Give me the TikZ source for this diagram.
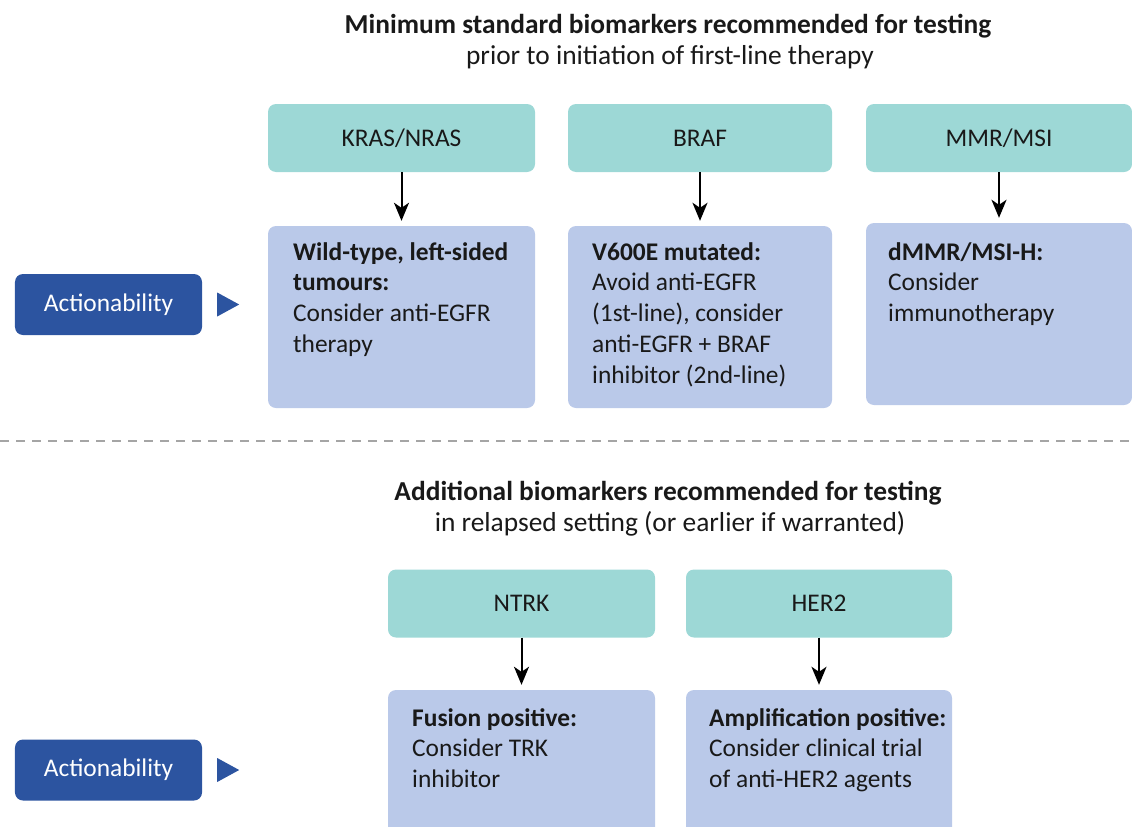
\documentclass[tikz,border=0pt]{standalone}
\usepackage{fontspec}
\setmainfont{Carlito}
\usetikzlibrary{arrows.meta}
\definecolor{tealc}{RGB}{157,216,214}
\definecolor{bluec}{RGB}{186,201,233}
\definecolor{actc}{RGB}{44,84,160}
\definecolor{dashc}{RGB}{165,165,165}
\definecolor{txtc}{RGB}{25,25,25}
\newcommand{\fs}{\fontsize{25.5}{31}\selectfont}
\newcommand{\fst}{\fontsize{27.5}{32}\selectfont}
\begin{document}
\begin{tikzpicture}[x=1bp,y=-1bp,
  tbox/.style={fill=tealc, rounded corners=8bp, inner sep=0pt, minimum height=68bp, text=txtc, font=\fs},
  bbox/.style={fill=bluec, rounded corners=8bp, inner sep=0pt},
  btext/.style={anchor=north west, inner sep=0pt, align=left, text=txtc, font=\fs},
  abox/.style={fill=actc, rounded corners=8bp, inner sep=0pt, minimum width=187bp, minimum height=61bp, text=white, font=\fs},
  atri/.style={fill=actc},
  conn/.style={-{Stealth[length=18bp,width=15bp,inset=5bp]}, line width=2bp, black, shorten >=5bp},
  ttl/.style={inner sep=0pt, text=txtc, font=\fst}
]
\useasboundingbox (0,0) rectangle (1132,827);
\clip (0,0) rectangle (1132,827);

% titles
\node[ttl] (t1) at (668,26) {\textbf{Minimum standard biomarkers recommended for testing}};
\node[ttl] (t1s) at (670,57) {prior to initiation of first-line therapy};
\node[ttl] (t2) at (668,493) {\textbf{Additional biomarkers recommended for testing}};
\node[ttl] (t2s) at (670,524) {in relapsed setting (or earlier if warranted)};

% top row
\node[tbox, minimum width=267bp] (kras) at (401.5,138) {KRAS/NRAS};
\node[tbox, minimum width=264bp] (braf) at (700,138) {BRAF};
\node[tbox, minimum width=266bp] (mmr) at (999,138) {MMR/MSI};

\node[bbox, minimum width=267bp, minimum height=182bp] (kb) at (401.5,317) {};
\node[bbox, minimum width=264bp, minimum height=182bp] (bb) at (700,317) {};
\node[bbox, minimum width=266bp, minimum height=182bp] (mb) at (999,314) {};

\draw[conn] (kras.south) -- (kb.north);
\draw[conn] (braf.south) -- (bb.north);
\draw[conn] (mmr.south) -- (mb.north);

\node[btext] (kt) at (293,242) {\textbf{Wild-type, left-sided}\\\textbf{tumours:}\\Consider anti-EGFR\\therapy};
\node[btext] (bt) at (592,242) {\textbf{V600E mutated:}\\Avoid anti-EGFR\\(1st-line), consider\\anti-EGFR + BRAF\\inhibitor (2nd-line)};
\node[btext] (mt) at (888,242) {\textbf{dMMR/MSI-H:}\\Consider\\immunotherapy};

% actionability 1
\node[abox] (a1) at (108.5,304.5) {Actionability};
\fill[atri] ([xshift=15bp,yshift=12bp]a1.east) -- ([xshift=37bp]a1.east) -- ([xshift=15bp,yshift=-12bp]a1.east) -- cycle;

% dashed separator
\coordinate (dl) at (0,441);
\coordinate (dr) at (1132,441);
\draw[dashc, line width=2.5bp, dash pattern=on 9bp off 7bp] (dl) -- (dr);

% bottom row
\node[tbox, minimum width=267bp] (ntrk) at (521.5,603.5) {NTRK};
\node[tbox, minimum width=266bp] (her2) at (819,603.5) {HER2};

\node[bbox, minimum width=267bp, minimum height=170bp] (nb) at (521.5,775) {};
\node[bbox, minimum width=266bp, minimum height=170bp] (hb) at (819,775) {};

\draw[conn] (ntrk.south) -- (nb.north);
\draw[conn] (her2.south) -- (hb.north);

\node[btext] (nt) at (412,708) {\textbf{Fusion positive:}\\Consider TRK\\inhibitor};
\node[btext] (ht) at (709,708) {\textbf{Amplification positive:}\\Consider clinical trial\\of anti-HER2 agents};

% actionability 2
\node[abox] (a2) at (108.5,770) {Actionability};
\fill[atri] ([xshift=15bp,yshift=12bp]a2.east) -- ([xshift=37bp]a2.east) -- ([xshift=15bp,yshift=-12bp]a2.east) -- cycle;
\end{tikzpicture}
\end{document}
